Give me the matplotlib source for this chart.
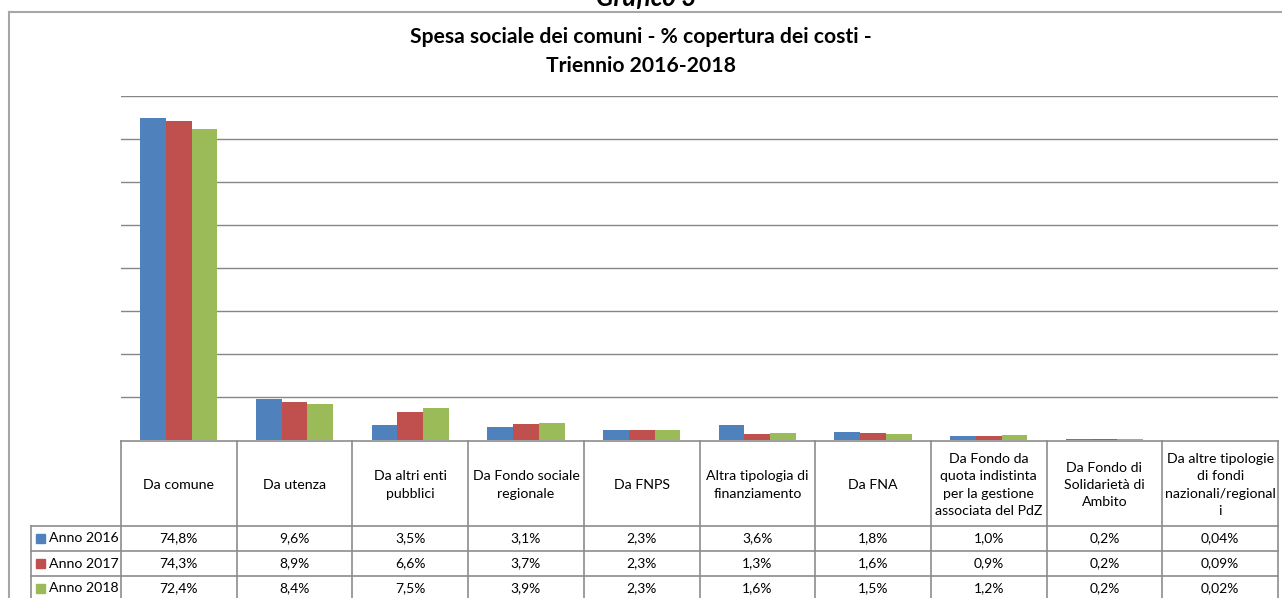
import matplotlib.pyplot as plt
import numpy as np

W, H = 1282, 598

categorie = ["Da comune", "Da utenza", "Da altri enti\npubblici", "Da Fondo sociale\nregionale",
             "Da FNPS", "Altra tipologia di\nfinanziamento", "Da FNA",
             "Da Fondo da\nquota indistinta\nper la gestione\nassociata del PdZ",
             "Da Fondo di\nSolidarietà di\nAmbito", "Da altre tipologie\ndi fondi\nnazionali/regional\ni"]
anni = ["Anno 2016", "Anno 2017", "Anno 2018"]
anno_2016 = [74.8, 9.6, 3.5, 3.1, 2.3, 3.6, 1.8, 1.0, 0.2, 0.04]
anno_2017 = [74.3, 8.9, 6.6, 3.7, 2.3, 1.3, 1.6, 0.9, 0.2, 0.09]
anno_2018 = [72.4, 8.4, 7.5, 3.9, 2.3, 1.6, 1.5, 1.2, 0.2, 0.02]
colori = ["#4F81BD", "#C0504D", "#9BBB59"]

serie = [anno_2016, anno_2017, anno_2018]

plt.rcParams['font.family'] = ['Lato', 'DejaVu Sans']

fig = plt.figure(figsize=(W / 100, H / 100), dpi=100)

# overlay in pixel coordinates for frame, titles and data table
ax0 = fig.add_axes([0, 0, 1, 1])
ax0.set_xlim(0, W)
ax0.set_ylim(H, 0)
ax0.axis('off')

# plot area
x0, x1, ytop, ybase = 121, 1278, 96, 440
ax = fig.add_axes([x0 / W, 1 - ybase / H, (x1 - x0) / W, (ybase - ytop) / H])
n = len(categorie)
x = np.arange(n)
bw = 1 / 4.5
for i, (vals, col) in enumerate(zip(serie, colori)):
    ax.bar(x + (i - 1) * bw, vals, bw, color=col, zorder=3)
ax.set_xlim(-0.5, n - 0.5)
ax.set_ylim(0, 80)
ax.set_yticks(np.arange(10, 81, 10))
ax.yaxis.grid(True, color="#868686", lw=1)
ax.tick_params(left=False, labelleft=False, bottom=False, labelbottom=False)
for s in ax.spines.values():
    s.set_visible(False)
ax.patch.set_alpha(0)

# outer chart frame (partly out of view)
ax0.plot([9, W], [12, 12], color="#A6A6A6", lw=1.5)
ax0.plot([9, 9], [12, H], color="#A6A6A6", lw=1.5)

# "Grafico 3" is cut by the top edge, as in the original
ax0.text(646, 6, "Grafico 3", ha='center', va='baseline', fontsize=18.5,
         fontweight='bold', fontstyle='italic')
ax0.text(641, 43, "Spesa sociale dei comuni - % copertura dei costi -", ha='center',
         va='baseline', fontsize=15.2, fontweight='bold')
ax0.text(641, 72, "Triennio 2016-2018", ha='center', va='baseline', fontsize=15.2,
         fontweight='bold')

# data table
lc = "#8C8C8C"
colw = (x1 - x0) / n
rows = [441, 526, 551, 576, 601]
ax0.plot([x0, x1], [rows[0], rows[0]], color=lc, lw=1.2)
for r in rows[1:4]:
    ax0.plot([31, x1], [r, r], color=lc, lw=1.2)
for k in range(n + 1):
    xb = x0 + k * colw
    ax0.plot([xb, xb], [rows[0], H], color=lc, lw=1.2)
ax0.plot([31, 31], [rows[1], H], color=lc, lw=1.2)

for k, cat in enumerate(categorie):
    ax0.text(x0 + (k + 0.5) * colw, 485, cat, ha='center', va='center',
             fontsize=10.2, linespacing=1.55)


def fmt(v):
    s = f"{v:.2f}" if v < 0.1 else f"{v:.1f}"
    return s.replace('.', ',') + '%'


for j, (vals, anno, col) in enumerate(zip(serie, anni, colori)):
    yc = (rows[j + 1] + rows[j + 2]) / 2
    ax0.add_patch(plt.Rectangle((36, yc - 4.5), 9, 9, color=col))
    ax0.text(49, yc, anno, ha='left', va='center', fontsize=10.2)
    for k, v in enumerate(vals):
        ax0.text(x0 + (k + 0.5) * colw, yc, fmt(v), ha='center', va='center', fontsize=10)

fig.savefig("out.png", dpi=100)
